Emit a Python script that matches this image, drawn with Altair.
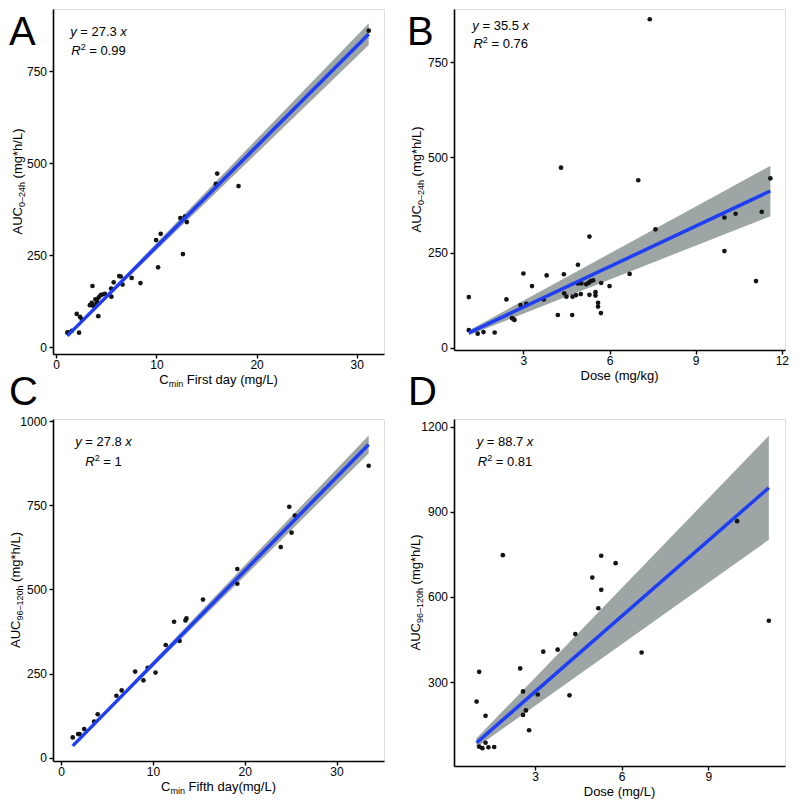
import altair as alt
import pandas as pd

FONT = "Liberation Sans"
BLUE = "#1f3ff5"
BAND = "#9ea5a5"
PT = "#141414"

# ---------------- data ----------------
# Panel A: Cmin first day (mg/L) vs AUC0-24h
a_cmin = [1.11, 1.17, 1.56, 2.28, 2.05, 2.38, 2.54, 3.36, 3.55, 3.69, 3.62, 3.91, 4.0, 4.08,
          4.24, 4.44, 4.6, 4.86, 4.2, 5.48, 5.51, 5.74, 6.29, 6.45, 6.62, 7.53, 8.41, 9.97,
          10.43, 10.17, 12.39, 12.85, 13.04, 12.65, 15.93, 16.07, 18.2, 31.2]
a_auc = [39, 40, 44, 39, 90, 82, 76, 114, 120, 112, 166, 130, 118, 125,
         135, 141, 143, 145, 84, 159, 137, 176, 193, 192, 170, 188, 174, 291,
         308, 217, 351, 355, 340, 253, 444, 472, 438, 861]

# Panel B: Dose (mg/kg) vs AUC0-24h
b_dose = [1.1, 1.1, 1.41, 1.61, 2.0, 2.41, 2.6, 2.69, 2.65, 2.9, 3.1, 3.0, 3.3, 3.71, 3.81,
          4.2, 4.31, 4.41, 4.42, 4.5, 4.7, 4.71, 4.83, 4.9, 4.9, 5.0, 5.02, 5.19, 5.28, 5.3,
          5.3, 5.35, 5.43, 5.51, 5.51, 5.6, 5.6, 5.7, 5.71, 6.0, 6.7, 7.0, 7.4, 7.6, 10.0,
          10.0, 10.39, 11.1, 11.3, 11.6]
b_auc = [133, 46, 37, 41, 40, 127, 78, 73, 76, 112, 115, 195, 162, 127, 190,
         86, 473, 193, 143, 134, 86, 134, 138, 218, 169, 141, 169, 167, 171, 292,
         139, 175, 177, 146, 137, 118, 108, 91, 170, 162, 194, 440, 863, 311, 342,
         254, 352, 175, 357, 445]

# Panel C: Cmin fifth day (mg/L) vs AUC96-120h
c_cmin = [1.26, 1.85, 2.0, 2.51, 3.59, 3.98, 6.02, 6.59, 8.06, 8.96, 9.42, 10.28, 11.39,
          12.3, 12.9, 13.54, 13.65, 15.45, 19.19, 19.19, 23.92, 24.85, 25.1, 25.46, 33.5]
c_auc = [60, 70, 70, 85, 107, 129, 184, 200, 256, 230, 267, 253, 335,
         404, 347, 408, 414, 470, 561, 517, 626, 746, 669, 720, 868]

# Panel D: Dose (mg/L) vs AUC96-120h
d_dose = [0.97, 1.06, 1.06, 1.17, 1.28, 1.28, 1.38, 1.58, 1.88, 2.48, 2.58, 2.58, 2.68, 2.79,
          3.09, 3.28, 3.78, 4.19, 4.39, 4.98, 5.19, 5.29, 5.29, 5.79, 6.69, 10.0, 11.1]
d_auc = [231, 336, 72, 67, 181, 86, 70, 71, 747, 348, 267, 184, 200, 130,
         256, 407, 414, 253, 469, 668, 560, 745, 625, 719, 404, 867, 516]

# regression through origin: slope, confidence band half-slope, R^2 label
slopes = [27.3, 35.5, 27.8, 88.7]
band_half = [0.95, 5.7, 0.8, 16.5]
r2_labels = ["0.99", "0.76", "1", "0.81"]
panel_letters = ["A", "B", "C", "D"]

# ---------------- text helpers ----------------
AW = {" ": 278, "(": 333, ")": 333, "*": 389, "/": 278, ".": 278, "=": 584, "\u2013": 556,
      "-": 333, "A": 667, "B": 667, "C": 722, "D": 722, "F": 611, "L": 556, "R": 722,
      "U": 722, "a": 556, "d": 556, "e": 556, "f": 278, "g": 556, "h": 556, "i": 222,
      "k": 500, "m": 833, "n": 556, "o": 556, "r": 333, "s": 500, "t": 278, "x": 500,
      "y": 500}
for dgt in "0123456789":
    AW[dgt] = 556

LETTER_SIZE = 40


def tw(s, size):
    return sum(AW.get(c, 556) for c in s) / 1000.0 * size


def txt(text, x, y, size=13, italic=False, angle=0):
    mk = dict(font=FONT, fontSize=size, fontStyle="italic" if italic else "normal",
              align="left", baseline="alphabetic", color="black")
    if angle:
        mk["angle"] = angle
    return alt.Chart(pd.DataFrame({"label": [text]})).mark_text(**mk).encode(
        x=alt.value(x), y=alt.value(y), text="label:N")


def hrow(parts, cx, y):
    total = sum(tw(t, s) for t, s, d, it in parts)
    x = cx - total / 2
    out = []
    for t, s, d, it in parts:
        lead = len(t) - len(t.lstrip(" "))
        out.append(txt(t.strip(" "), x + tw(" " * lead, s), y + d, size=s, italic=it))
        x += tw(t, s)
    return out


def vrow(parts, cy, bx):
    total = sum(tw(t, s) for t, s, d, it in parts)
    y = cy + total / 2
    out = []
    for t, s, d, it in parts:
        lead = len(t) - len(t.lstrip(" "))
        out.append(txt(t.strip(" "), bx + d, y - tw(" " * lead, s), size=s, italic=it, angle=270))
        y -= tw(t, s)
    return out


def axis(values, pad):
    return alt.Axis(values=values, title=None, grid=False, format="d", domainColor="black",
                    domainWidth=1.6, tickColor="black", tickWidth=1.4, tickSize=4,
                    labelFont=FONT, labelFontSize=12, labelColor="black", labelPadding=pad,
                    labelFlush=False, labelOverlap=False)


def panel(i, xs, ys, xdom, ydom, xticks, yticks, w, h, letter_pos, ann, xtitle, ytitle, ytx):
    slope, bh = slopes[i], band_half[i]
    pts = pd.DataFrame({"x": xs, "y": ys})
    fit = pd.DataFrame({"x": [min(xs), max(xs)]})
    fit["fit"] = slope * fit["x"]
    fit["lo"] = (slope - bh) * fit["x"]
    fit["hi"] = (slope + bh) * fit["x"]

    X = alt.X("x:Q", scale=alt.Scale(domain=xdom, nice=False, zero=False), axis=axis(xticks, 1.5))
    ys_ = alt.Scale(domain=ydom, nice=False, zero=False)
    ya = axis(yticks, 2.5)

    band = alt.Chart(fit).mark_area(color=BAND, opacity=1).encode(
        x=X, y=alt.Y("lo:Q", scale=ys_, axis=ya), y2="hi:Q")
    pts_l = alt.Chart(pts).mark_circle(size=22, color=PT, opacity=1).encode(
        x=X, y=alt.Y("y:Q", scale=ys_, axis=ya))
    line = alt.Chart(fit).mark_line(color=BLUE, strokeWidth=3.5).encode(
        x=X, y=alt.Y("fit:Q", scale=ys_, axis=ya))

    layers = [band, pts_l, line]
    layers.append(txt(panel_letters[i], letter_pos[0], letter_pos[1], size=LETTER_SIZE))
    cx, y1, y2 = ann
    layers += hrow([("y", 13, 0, True), (" = %s " % slope, 13, 0, False), ("x", 13, 0, True)], cx, y1)
    layers += hrow([("R", 13, 0, True), ("2", 9, -5, False), (" = %s" % r2_labels[i], 13, 0, False)], cx, y2)
    layers += hrow(xtitle, w / 2, h + 29.5)
    layers += vrow(ytitle, h / 2, ytx)
    return alt.layer(*layers).properties(width=w, height=h)


W = 331
auc024 = [("AUC", 13, 0, False), ("0\u201324h", 9, 3, False), (" (mg*h/L)", 13, 0, False)]
auc96 = [("AUC", 13, 0, False), ("96\u2013120h", 9, 3, False), (" (mg*h/L)", 13, 0, False)]

pA = panel(0, a_cmin, a_auc, [-0.32, 32.72], [-19, 920], [0, 10, 20, 30], [0, 250, 500, 750],
           W, 345, (-44, 35.5), (45.5, 26.7, 46.3),
           [("C", 13, 0, False), ("min", 9, 3, False), (" First day (mg/L)", 13, 0, False)],
           auc024, -31)
pB = panel(1, b_dose, b_auc, [0.584, 12.11], [-6, 890], [3, 6, 9, 12], [0, 250, 500, 750],
           W, 341, (-47, 35.5), (46.7, 20.5, 39),
           [("Dose (mg/kg)", 13, 0, False)],
           auc024, -32.6)
pC = panel(2, c_cmin, c_auc, [-0.89, 35.17], [-10, 1007], [0, 10, 20, 30], [0, 250, 500, 750, 1000],
           W, 342, (-44, -14), (50.5, 27.3, 46.7),
           [("C", 13, 0, False), ("min", 9, 3, False), (" Fifth day(mg/L)", 13, 0, False)],
           auc96, -33)
pD = panel(3, d_dose, d_auc, [0.187, 11.66], [4, 1227], [3, 6, 9], [300, 600, 900, 1200],
           W, 347, (-46, -14), (51, 27.3, 46.7),
           [("Dose (mg/L)", 13, 0, False)],
           auc96, -34)

chart = alt.concat(pA, pB, pC, pD, columns=2, spacing={"row": 65, "column": 70},
                   bounds="flush", padding=0).configure_view(stroke=None).configure(background="white")

chart.save("out.html", embed_options={"renderer": "svg", "actions": False})
